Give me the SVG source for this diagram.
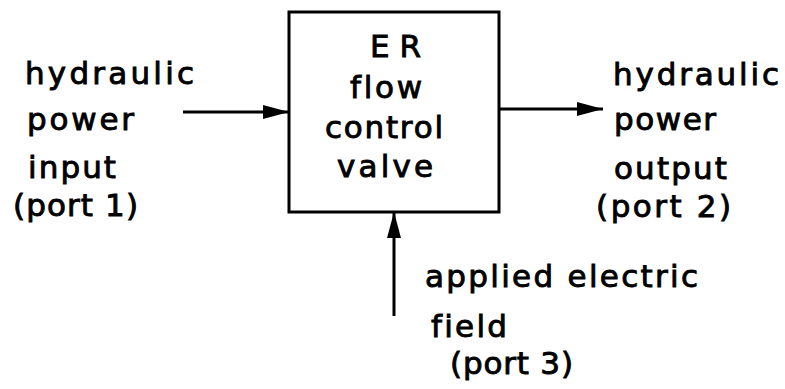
<svg xmlns="http://www.w3.org/2000/svg" width="785" height="389" viewBox="0 0 785 389">
<style>
text{font-family:"DejaVu Sans","Liberation Sans",sans-serif;font-size:31px;fill:#000;stroke:#000;stroke-width:0.9;font-variant-ligatures:none;}
.ln{stroke:#000;stroke-width:3;fill:none;}
</style>
<defs>
<marker id="ah2" viewBox="0 0 26 14" refX="26" refY="7" markerWidth="26" markerHeight="14" orient="auto" markerUnits="userSpaceOnUse">
<path d="M0,0 L26,7 L0,14 Z" fill="#000"/>
</marker>
</defs>
<rect width="785" height="389" fill="#fff"/>
<g id="valve">
<rect x="289" y="12" width="210" height="200" class="ln"/>
<text x="370" y="57" textLength="51" lengthAdjust="spacing">E R</text>
<text x="350" y="98" textLength="72" lengthAdjust="spacing">flow</text>
<text x="325" y="138" textLength="118" lengthAdjust="spacing">control</text>
<text x="337" y="177" textLength="96" lengthAdjust="spacing">valve</text>
</g>
<g id="input">
<text x="25" y="84" textLength="169" lengthAdjust="spacing">hydraulic</text>
<text x="27" y="130" textLength="107" lengthAdjust="spacing">power</text>
<text x="28" y="178" textLength="88" lengthAdjust="spacing">input</text>
<text x="13" y="216" textLength="125" lengthAdjust="spacing">(port 1)</text>
</g>
<g id="output">
<text x="613" y="85" textLength="166" lengthAdjust="spacing">hydraulic</text>
<text x="614" y="130" textLength="102" lengthAdjust="spacing">power</text>
<text x="614" y="179" textLength="113" lengthAdjust="spacing">output</text>
<text x="596" y="217" textLength="135" lengthAdjust="spacing">(port 2)</text>
</g>
<g id="field">
<text x="425" y="287" textLength="273" lengthAdjust="spacing">applied electric</text>
<text x="431" y="337" textLength="76" lengthAdjust="spacing">field</text>
<text x="450" y="374" textLength="123" lengthAdjust="spacing">(port 3)</text>
</g>
<g id="connectors">
<line x1="183" y1="112" x2="289" y2="112" class="ln" marker-end="url(#ah2)"/>
<line x1="499" y1="109" x2="603" y2="109" class="ln" marker-end="url(#ah2)"/>
<line x1="394" y1="316" x2="394" y2="212" class="ln" marker-end="url(#ah2)"/>
</g>
</svg>
